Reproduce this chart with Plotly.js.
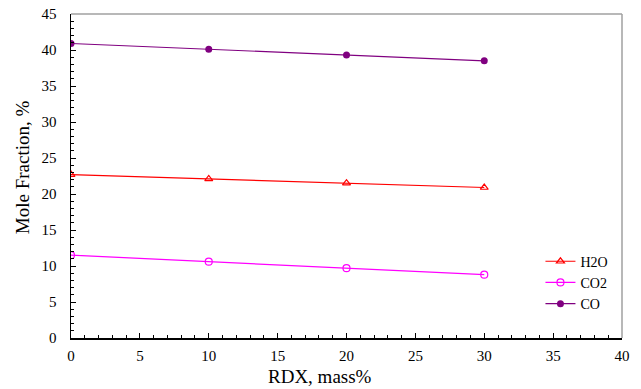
<!DOCTYPE html>
<html>
<head>
<meta charset="utf-8">
<script src="https://cdn.plot.ly/plotly-3.0.1.min.js"></script>
<style>html,body{margin:0;padding:0;background:#fff;}</style>
</head>
<body>
<div id="chart" style="width:641px;height:389px;"></div>
<script>
const rdx = [0, 10, 20, 30];
const h2o = [22.7, 22.1, 21.5, 20.9];
const co2 = [11.5, 10.6, 9.7, 8.8];
const co = [40.9, 40.1, 39.3, 38.5];
const xTitle = 'RDX, mass%';
const yTitle = 'Mole Fraction, %';

const font = "Liberation Serif";

const traces = [
  {x: rdx, y: h2o, name: 'H2O', mode: 'lines+markers',
   line: {color: '#ff0000', width: 1.2},
   marker: {symbol: 'triangle-up-open', size: 7, color: '#ff0000', line: {width: 1.2}}},
  {x: rdx, y: co2, name: 'CO2', mode: 'lines+markers',
   line: {color: '#ff00ff', width: 1.2},
   marker: {symbol: 'circle-open', size: 7, color: '#ff00ff', line: {width: 1.2}}},
  {x: rdx, y: co, name: 'CO', mode: 'lines+markers',
   line: {color: '#800080', width: 1.2},
   marker: {symbol: 'circle', size: 7, color: '#800080'}}
];

const layout = {
  width: 641, height: 389,
  margin: {l: 71, r: 19, t: 14, b: 51},
  paper_bgcolor: '#fff', plot_bgcolor: '#fff',
  font: {family: font, size: 15, color: '#000'},
  showlegend: true,
  legend: {x: 0.852, y: 0.285, xanchor: 'left', yanchor: 'top',
           font: {family: font, size: 14, color: '#000'},
           bgcolor: 'rgba(0,0,0,0)', borderwidth: 0, tracegroupgap: 0, itemwidth: 30},
  xaxis: {
    range: [0, 40], dtick: 5, tick0: 0,
    showgrid: false, zeroline: false,
    showline: true, linecolor: '#000', linewidth: 1.5,
    ticks: 'inside', ticklen: 5, tickcolor: '#000', tickwidth: 1,
    minor: {dtick: 1, ticks: 'inside', ticklen: 3, tickcolor: '#000', showgrid: false},
    tickfont: {family: font, size: 15, color: '#000'},
    ticklabelstandoff: 3
  },
  yaxis: {
    range: [0, 45], dtick: 5, tick0: 0,
    showgrid: false, zeroline: false,
    showline: true, linecolor: '#000', linewidth: 1.5,
    ticks: 'inside', ticklen: 5, tickcolor: '#000', tickwidth: 1,
    minor: {dtick: 1, ticks: 'inside', ticklen: 3, tickcolor: '#000', showgrid: false},
    tickfont: {family: font, size: 15, color: '#000'},
    ticklabelstandoff: 10
  },
  annotations: [
    {text: xTitle, xref: 'paper', yref: 'paper', x: 0.452, y: -0.118,
     xanchor: 'center', yanchor: 'middle', showarrow: false,
     font: {family: font, size: 19, color: '#000'}},
    {text: yTitle, xref: 'paper', yref: 'paper', x: -0.089, y: 0.527,
     xanchor: 'center', yanchor: 'middle', showarrow: false, textangle: -90,
     font: {family: font, size: 19, color: '#000'}}
  ],
  shapes: [
    {type: 'line', xref: 'x domain', yref: 'y domain', x0: 0, x1: 1, y0: 1, y1: 1,
     line: {color: '#a0a0a0', width: 1.5}},
    {type: 'line', xref: 'x domain', yref: 'y domain', x0: 1, x1: 1, y0: 0, y1: 1,
     line: {color: '#a0a0a0', width: 1.5}}
  ]
};

Plotly.newPlot('chart', traces, layout, {displayModeBar: false, staticPlot: true});
</script>
</body>
</html>
